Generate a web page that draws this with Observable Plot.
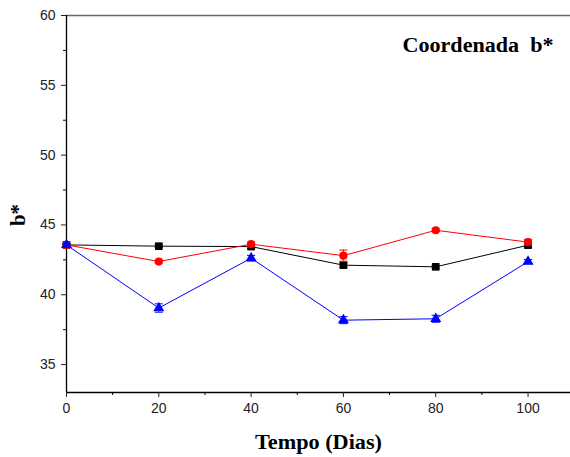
<!DOCTYPE html>
<html><head><meta charset="utf-8">
<script src="https://cdn.jsdelivr.net/npm/d3@7"></script>
<script src="https://cdn.jsdelivr.net/npm/@observablehq/plot@0.6"></script>
<style>body{margin:0;background:#fff}</style>
</head><body><div id="chart"></div>
<script>
const days = [0, 20, 40, 60, 80, 100];
const blackVals = [43.57, 43.48, 43.45, 42.12, 42.0, 43.55];
const blackErr  = [0.1, 0.1, 0.15, 0.15, 0.1, 0.15];
const redVals   = [43.57, 42.38, 43.62, 42.8, 44.62, 43.77];
const redErr    = [0.1, 0.1, 0.15, 0.4, 0.1, 0.2];
const blueVals  = [43.57, 39.05, 42.62, 38.18, 38.28, 42.37];
const blueErr   = [0.1, 0.3, 0.2, 0.25, 0.25, 0.15];
const xTicks = [0, 20, 40, 60, 80, 100];
const xMinor = [10, 30, 50, 70, 90];
const yTicks = [35, 40, 45, 50, 55, 60];
const yMinor = [37.5, 42.5, 47.5, 52.5, 57.5];
const titleText = "Coordenada  b*";
const xLabel = "Tempo (Dias)";
const yLabel = "b*";

const series = [
  {vals: blackVals, err: blackErr, color: "#000000", symbol: "square", r: 4.3},
  {vals: redVals, err: redErr, color: "#ff0000", symbol: "circle", r: 4.1},
  {vals: blueVals, err: blueErr, color: "#0000ff", symbol: "triangle", r: 4.1}
];

const capSymbol = {draw(ctx, size) { const w = Math.sqrt(size); ctx.moveTo(-w, 0); ctx.lineTo(w, 0); }};

const sans = "Liberation Sans, Arial, sans-serif";
const serif = "Liberation Serif, Times New Roman, serif";

const marks = [
  Plot.ruleY([60], {stroke: "#666", strokeWidth: 1.3}),
  Plot.ruleX([0], {stroke: "#000", strokeWidth: 1.3}),
  Plot.ruleY([33], {stroke: "#000", strokeWidth: 1.3}),
  Plot.axisY({ticks: yTicks, tickSize: 5, tickPadding: 6, fontSize: 14, fontFamily: sans, label: null, tickFormat: d => d, color: "#222"}),
  Plot.axisY({ticks: yMinor, tickSize: 3, text: null, label: null}),
  Plot.axisX({ticks: xTicks, tickSize: 5, tickPadding: 6, fontSize: 14, fontFamily: sans, label: null, tickFormat: d => d, color: "#222"}),
  Plot.axisX({ticks: xMinor, tickSize: 3, text: null, label: null})
];

for (const s of series) {
  const data = days.map((d, i) => ({x: d, y: s.vals[i], lo: s.vals[i] - s.err[i], hi: s.vals[i] + s.err[i]}));
  marks.push(Plot.line(data, {x: "x", y: "y", stroke: s.color, strokeWidth: 1}));
  marks.push(Plot.ruleX(data, {x: "x", y1: "lo", y2: "hi", stroke: s.color, strokeWidth: 1}));
  marks.push(Plot.dot(data, {x: "x", y: "hi", symbol: capSymbol, r: 2.3, stroke: s.color, strokeWidth: 1}));
  marks.push(Plot.dot(data, {x: "x", y: "lo", symbol: capSymbol, r: 2.3, stroke: s.color, strokeWidth: 1}));
  marks.push(Plot.dot(data, {x: "x", y: "y", symbol: s.symbol, r: s.r, fill: s.color, stroke: "none"}));
}

marks.push(Plot.text([titleText], {frameAnchor: "top-right", dx: -17, dy: 30, textAnchor: "end", lineAnchor: "middle", fontFamily: serif, fontWeight: "bold", fontSize: 20.5, fill: "#000", className: "ttl"}));
marks.push(Plot.text([xLabel], {frameAnchor: "bottom", dy: 50, textAnchor: "middle", lineAnchor: "middle", fontFamily: serif, fontWeight: "bold", fontSize: 21, fill: "#000", className: "xlab"}));
marks.push(Plot.text([yLabel], {frameAnchor: "left", dx: -48, dy: 11, rotate: -90, textAnchor: "middle", lineAnchor: "middle", fontFamily: serif, fontWeight: "bold", fontSize: 21, fill: "#000"}));

const chart = Plot.plot({
  width: 570,
  height: 457,
  marginLeft: 66,
  marginRight: 0,
  marginTop: 15,
  marginBottom: 65,
  x: {domain: [0, 109.2]},
  y: {domain: [33, 60]},
  style: {background: "#fff", overflow: "visible"},
  marks
});
for (const [cls, len] of [["ttl", 151], ["xlab", 127]]) {
  chart.querySelectorAll(`.${cls} text`).forEach(t => { t.setAttribute("textLength", len); t.setAttribute("lengthAdjust", "spacingAndGlyphs"); });
}
document.getElementById("chart").appendChild(chart);
</script>
</body></html>
